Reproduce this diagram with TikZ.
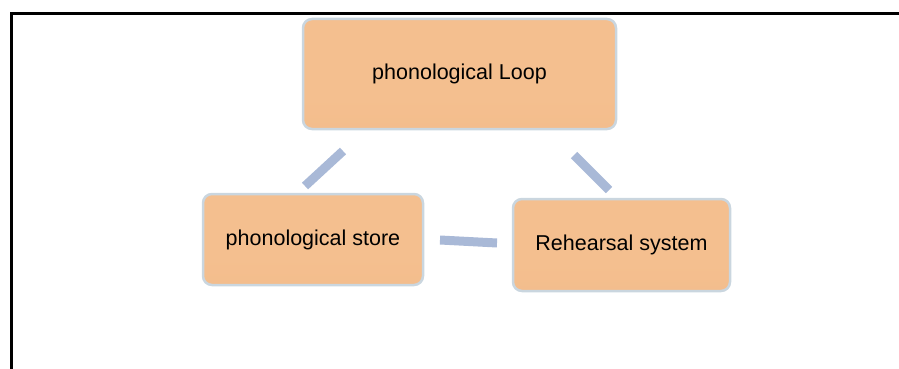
\documentclass[tikz,border=0pt]{standalone}
\usepackage{fontspec}
\setmainfont{Liberation Sans}
\usetikzlibrary{calc}
\definecolor{peach}{HTML}{F4BF8F}
\definecolor{peachlight}{HTML}{FBE0C4}
\definecolor{peachdeep}{HTML}{F2BA88}
\definecolor{rimblue}{HTML}{CAD6DF}
\definecolor{linkblue}{HTML}{A9B9D7}
% peach bevel: light band along the top edge, even body below
\pgfdeclareverticalshading{peachbevel}{100bp}{
  color(0bp)=(peachdeep); color(40bp)=(peach); color(84bp)=(peach);
  color(92bp)=(peachlight); color(100bp)=(peachlight)}
\tikzset{
  box/.style={draw=rimblue, line width=2.5pt, rounded corners=9pt,
    shading=peachbevel, inner sep=0pt,
    font=\fontsize{21.5}{25}\selectfont},
  link/.style={draw=linkblue, line width=9pt},
  frame/.style={draw=black, line width=3pt}
}
\begin{document}
\begin{tikzpicture}[x=1pt,y=-1pt]
  \useasboundingbox (0,0) rectangle (899,369);
  % open frame: top and left edges only
  \coordinate (ftl) at (11,14);
  \coordinate (ftr) at (899,14);
  \coordinate (fbl) at (11,369);
  \draw[frame] (ftr) -- (ftl) -- (fbl);

  % the three component boxes
  \node[box, minimum width=313pt, minimum height=110pt] (loop) at (459.5,74) {phonological Loop};
  \node[box, minimum width=220pt, minimum height=91pt] (store) at (313,239.5) {phonological store};
  \node[box, minimum width=217pt, minimum height=92pt] (rehearsal) at (621.5,245) {Rehearsal system};

  % connectors, floating between the boxes
  \coordinate (l1a) at (343,151);
  \coordinate (l1b) at (305,186);
  \coordinate (l2a) at (574,155);
  \coordinate (l2b) at (609,190);
  \coordinate (l3a) at (440,240);
  \coordinate (l3b) at (497,243);
  \draw[link] (l1a) -- (l1b);
  \draw[link] (l2a) -- (l2b);
  \draw[link] (l3a) -- (l3b);
\end{tikzpicture}
\end{document}
